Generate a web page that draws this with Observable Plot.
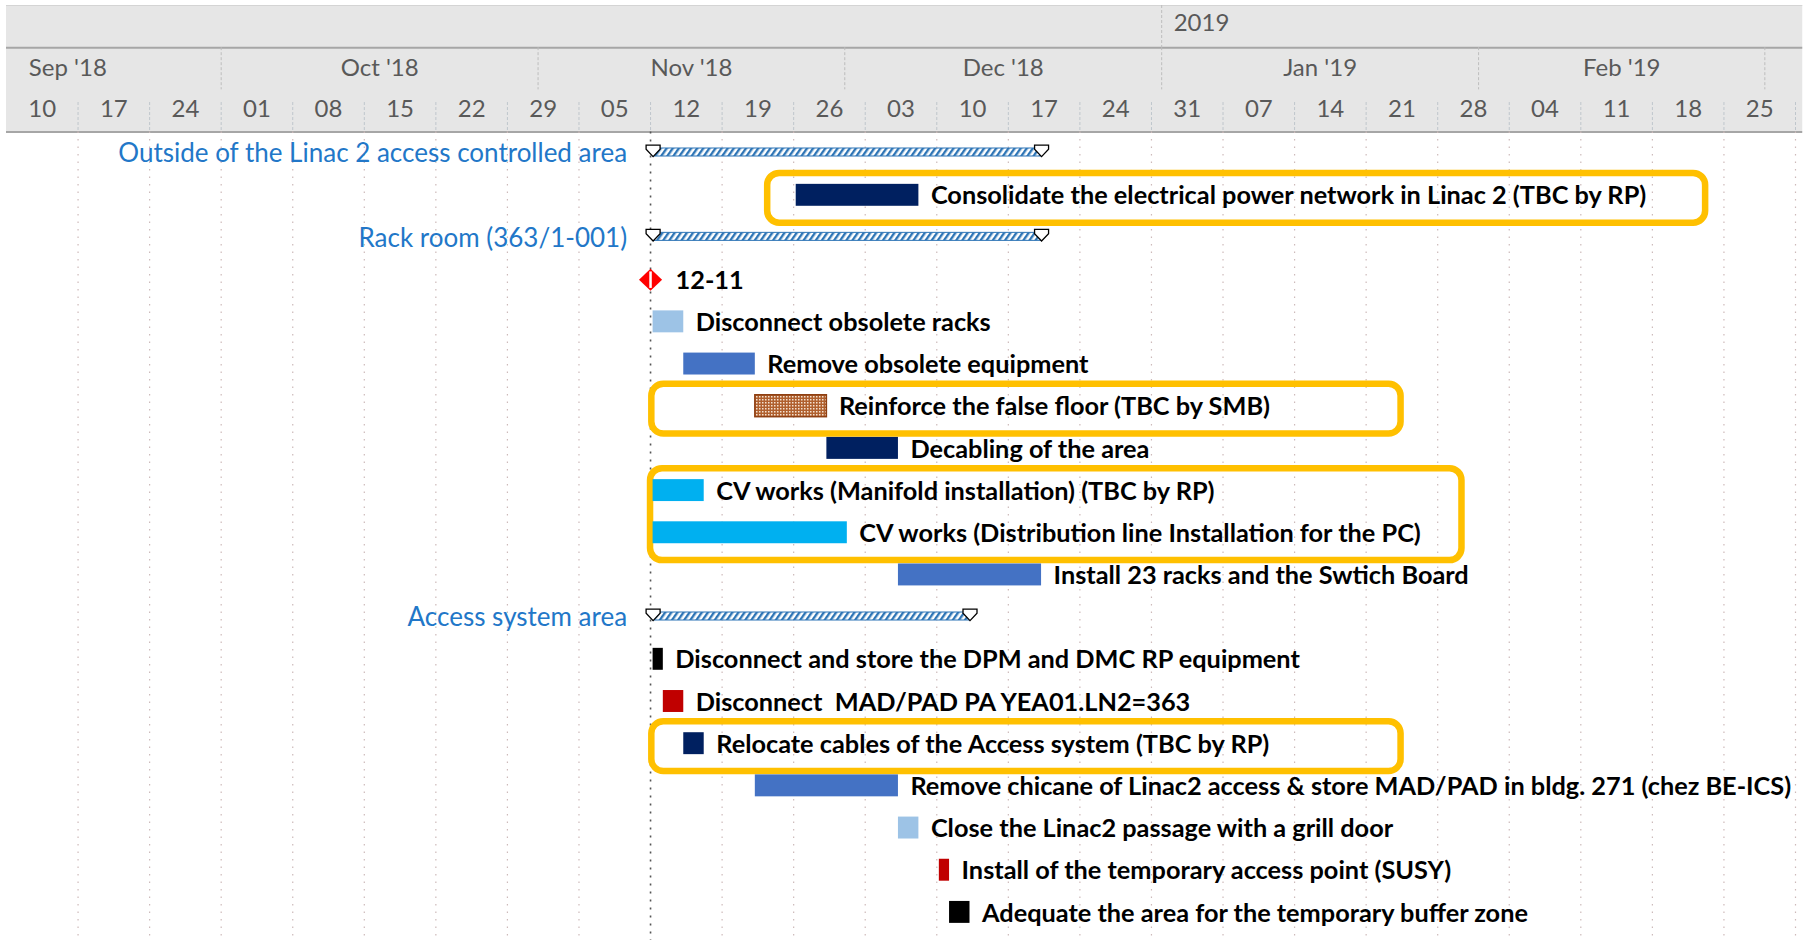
<!DOCTYPE html>
<html>
<head>
<meta charset="utf-8">
<script src="https://cdn.jsdelivr.net/npm/d3@7"></script>
<script src="https://cdn.jsdelivr.net/npm/@observablehq/plot@0.6"></script>
<style>
  html, body { margin: 0; padding: 0; background: #ffffff; }
  #chart svg { display: block; }
</style>
</head>
<body>
<svg width="0" height="0" style="position:absolute">
  <defs>
    <pattern id="summaryHatch" patternUnits="userSpaceOnUse" width="5" height="5" patternTransform="rotate(35)">
      <rect width="5" height="5" fill="#ffffff"></rect>
      <rect width="2.4" height="5" fill="#2e75b6"></rect>
    </pattern>
    <pattern id="floorHatch" patternUnits="userSpaceOnUse" width="3" height="3">
      <rect width="3" height="3" fill="#b0602e"></rect>
      <rect width="1.5" height="1.5" fill="#f4e2d2"></rect>
    </pattern>
  </defs>
</svg>
<div id="chart"></div>
<script>
// ---------------- Timescale (tick labels) ----------------
const timelineStart = "2018-09-10";
const timelineEnd = "2019-03-04";
const headerEnd = "2019-03-04T17:00";
const weekStarts = ["2018-09-10","2018-09-17","2018-09-24","2018-10-01","2018-10-08","2018-10-15","2018-10-22","2018-10-29",
  "2018-11-05","2018-11-12","2018-11-19","2018-11-26","2018-12-03","2018-12-10","2018-12-17","2018-12-24","2018-12-31",
  "2019-01-07","2019-01-14","2019-01-21","2019-01-28","2019-02-04","2019-02-11","2019-02-18","2019-02-25"];
const weekLabels = ["10","17","24","01","08","15","22","29","05","12","19","26","03","10","17","24","31",
  "07","14","21","28","04","11","18","25"];
const monthStarts = ["2018-09-01","2018-10-01","2018-11-01","2018-12-01","2019-01-01","2019-02-01","2019-03-01"];
const monthLabels = ["Sep '18","Oct '18","Nov '18","Dec '18","Jan '19","Feb '19"];
const yearStarts = ["2019-01-01"];
const yearLabels = ["2019"];
const statusDate = "2018-11-12";

// ---------------- Tasks ----------------
const taskNames = [
  "Outside of the Linac 2 access controlled area",
  "Consolidate the electrical power network in Linac 2 (TBC by RP)",
  "Rack room (363/1-001)",
  "Lock-out of Power Converters",
  "Disconnect obsolete racks",
  "Remove obsolete equipment",
  "Reinforce the false floor (TBC by SMB)",
  "Decabling of the area",
  "CV works (Manifold installation) (TBC by RP)",
  "CV works (Distribution line Installation for the PC)",
  "Install 23 racks and the Swtich Board",
  "Access system area",
  "Disconnect and store the DPM and DMC RP equipment",
  "Disconnect  MAD/PAD PA YEA01.LN2=363",
  "Relocate cables of the Access system (TBC by RP)",
  "Remove chicane of Linac2 access & store MAD/PAD in bldg. 271 (chez BE-ICS)",
  "Close the Linac2 passage with a grill door",
  "Install of the temporary access point (SUSY)",
  "Adequate the area for the temporary buffer zone"
];
const taskTypes = ["summary","task","summary","milestone","task","task","task","task","task","task","task",
  "summary","task","task","task","task","task","task","task"];
const taskStarts = ["2018-11-12","2018-11-26","2018-11-12","2018-11-12","2018-11-12","2018-11-15","2018-11-22","2018-11-29",
  "2018-11-12","2018-11-12","2018-12-06","2018-11-12","2018-11-12","2018-11-13","2018-11-15","2018-11-22","2018-12-06",
  "2018-12-10","2018-12-11"];
const taskFinishes = ["2018-12-20","2018-12-08","2018-12-20","2018-11-12","2018-11-15","2018-11-22","2018-11-29","2018-12-06",
  "2018-11-17","2018-12-01","2018-12-20","2018-12-13","2018-11-13","2018-11-15","2018-11-17","2018-12-06","2018-12-08",
  "2018-12-11","2018-12-13"];
const taskGroups = ["summary","electrical","summary","milestone","preparation","installation","civil","electrical",
  "cooling","cooling","installation","summary","radioprotection","access","electrical","installation","preparation",
  "access","radioprotection"];

// ---------------- Highlighted groups (orange frames) ----------------
const boxFirstRow = [1, 6, 8, 14];
const boxLastRow = [1, 6, 9, 14];
const boxStarts = ["2018-11-23T11:00","2018-11-12T03:00","2018-11-12T00:00","2018-11-12T03:00"];
const boxEnds = ["2019-02-23T05:00","2019-01-24T10:00","2019-01-30T09:00","2019-01-24T10:00"];

// ---------------- Build tables ----------------
const toDate = s => new Date(s.length > 10 ? s + ":00Z" : s + "T00:00:00Z");
const workStart = d => d3.utcHour.offset(d, 6); // bars begin at the start of the working day
const tasks = taskNames.map((name, i) => ({
  row: i, name, type: taskTypes[i], group: taskGroups[i],
  date: toDate(taskStarts[i]),
  start: workStart(toDate(taskStarts[i])),
  end: workStart(toDate(taskFinishes[i]))
}));
const bars = tasks.filter(d => d.type === "task");
const summaries = tasks.filter(d => d.type === "summary");
const milestones = tasks.filter(d => d.type === "milestone");
const summaryEnds = summaries.flatMap(d => [{row: d.row, x: d.start}, {row: d.row, x: d.end}]);
const boxes = boxFirstRow.map((r, i) => ({first: r, last: boxLastRow[i], start: toDate(boxStarts[i]), end: toDate(boxEnds[i])}));

const weeks = weekStarts.map((s, i) => ({start: toDate(s), mid: d3.utcHour.offset(toDate(s), 84), label: weekLabels[i]}));
const months = monthLabels.map((l, i) => {
  const a = toDate(monthStarts[i]), b = toDate(monthStarts[i + 1]);
  return {label: l, mid: new Date((+a + +b) / 2)};
});
const years = yearLabels.map((l, i) => ({label: l, start: toDate(yearStarts[i])}));
const gridLines = weekStarts.slice(1).concat([timelineEnd]).filter(s => s !== statusDate).map(toDate);
const headerSpan = [{x1: toDate(timelineStart), x2: toDate(headerEnd)}];

// header rows on the same row grid as the tasks
const headerRow = {year: -3, month: -2, week: -1};

// ---------------- Styles ----------------
const groupDomain = ["electrical","preparation","installation","cooling","radioprotection","access","civil"];
const groupColors = ["#002060","#9dc3e6","#4472c4","#00b0f0","#000000","#c00000","url(#floorHatch)"];
const font = "Lato, 'Open Sans', sans-serif";

const summaryCap = {draw(ctx, size) {
  const r = Math.sqrt(size / Math.PI);
  ctx.moveTo(-r, -1.15 * r); ctx.lineTo(r, -1.15 * r); ctx.lineTo(r, -0.55 * r);
  ctx.lineTo(0, 0.5 * r); ctx.lineTo(-r, -0.55 * r); ctx.closePath();
}};
const diamond = {draw(ctx, size) {
  const r = Math.sqrt(size / Math.PI);
  ctx.moveTo(0, -r); ctx.lineTo(1.05 * r, 0); ctx.lineTo(0, r); ctx.lineTo(-1.05 * r, 0); ctx.closePath();
}};
const vline = {draw(ctx, size) {
  const r = Math.sqrt(size / Math.PI);
  ctx.moveTo(0, -0.75 * r); ctx.lineTo(0, 0.75 * r);
}};
const fmtDM = d3.utcFormat("%d-%m");

const chart = Plot.plot({
  width: 1808,
  height: 940,
  marginTop: 5,
  marginBottom: 7,
  marginLeft: 6,
  marginRight: 13,
  style: {fontFamily: font, background: "transparent", overflow: "visible"},
  x: {type: "utc", domain: [toDate(timelineStart), toDate(timelineEnd)], axis: null},
  y: {type: "linear", domain: [-3.5, 18.5], reverse: true, axis: null},
  color: {type: "ordinal", domain: groupDomain, range: groupColors},
  marks: [
    // header
    Plot.rect(headerSpan, {x1: "x1", x2: "x2", y1: headerRow.year - 0.5, y2: headerRow.week + 0.5, fill: "#e6e6e6"}),
    Plot.ruleY([headerRow.year - 0.5], {x1: headerSpan[0].x1, x2: headerSpan[0].x2, stroke: "#d4d4d4", strokeWidth: 1}),
    Plot.ruleY([headerRow.month - 0.5, headerRow.week + 0.5], {x1: headerSpan[0].x1, x2: headerSpan[0].x2, stroke: "#a6a6a6", strokeWidth: 2}),
    Plot.ruleX(years, {x: "start", y1: headerRow.year - 0.5, y2: headerRow.year + 0.5, stroke: "#bdbdbd", strokeDasharray: "3,2"}),
    Plot.ruleX(monthStarts.slice(1).map(toDate), {y1: headerRow.month - 0.5, y2: headerRow.month + 0.5, stroke: "#bdbdbd", strokeDasharray: "3,2"}),
    Plot.ruleX(weeks.slice(1).map(d => d.start).concat([toDate(timelineEnd)]), {y1: headerRow.week - 0.2, y2: headerRow.week + 0.5, stroke: "#bfc6cc", strokeDasharray: "3,2"}),
    Plot.text(years, {x: "start", y: () => headerRow.year, text: "label", textAnchor: "start", dx: 12, dy: -3, fill: "#595959", fontSize: 24}),
    Plot.text(months, {x: "mid", y: () => headerRow.month, text: "label", fill: "#595959", fontSize: 24}),
    Plot.text(weeks, {x: "mid", y: () => headerRow.week, text: "label", dy: -2, fill: "#595959", fontSize: 24}),
    // grid
    Plot.ruleX(gridLines, {y1: headerRow.week + 0.5, y2: 18.7, stroke: "#cdbaba", strokeWidth: 1.2, strokeDasharray: "1.5,6"}),
    Plot.ruleX([toDate(statusDate)], {y1: headerRow.week + 0.5, y2: 18.7, stroke: "#555555", strokeWidth: 1.6, strokeDasharray: "2,6"}),
    // highlight frames
    Plot.rect(boxes, {x1: "start", x2: "end", y1: d => d.first - 0.52, y2: d => d.last + 0.66, fill: "none", stroke: "#ffc000", strokeWidth: 6.5, rx: 12}),
    // summary bars
    Plot.rect(summaries, {x1: "start", x2: "end", y1: d => d.row - 0.11, y2: d => d.row + 0.08, fill: "url(#summaryHatch)", stroke: "#2e75b6", strokeWidth: 1}),
    Plot.dot(summaryEnds, {x: "x", y: "row", r: 7, symbol: summaryCap, fill: "#ffffff", stroke: "#000000", strokeWidth: 1.3}),
    // task bars
    Plot.rect(bars, {x1: "start", x2: "end", y1: d => d.row - 0.26, y2: d => d.row + 0.26, fill: "group"}),
    Plot.rect(bars.filter(d => d.group === "civil"), {x1: "start", x2: "end", y1: d => d.row - 0.26, y2: d => d.row + 0.26, fill: "none", stroke: "#8e3f12", strokeWidth: 1.5}),
    // milestones
    Plot.dot(milestones, {x: "date", y: "row", r: 11, symbol: diamond, fill: "#ff0000", stroke: "none"}),
    Plot.dot(milestones, {x: "date", y: "row", r: 11, symbol: vline, fill: "none", stroke: "#ffffff", strokeWidth: 2.5}),
    // labels
    Plot.text(summaries, {x: "start", y: "row", text: "name", textAnchor: "end", dx: -26, dy: 1, fill: "#2277c8", fontSize: 26}),
    Plot.text(bars, {x: "end", y: "row", text: "name", textAnchor: "start", dx: 12, dy: 1, fill: "#000000", fontSize: 25.3, fontWeight: "bold"}),
    Plot.text(milestones, {x: "date", y: "row", text: d => fmtDM(d.date), textAnchor: "start", dx: 25, dy: 1, fill: "#000000", fontSize: 25.3, fontWeight: "bold"})
  ]
});
document.getElementById("chart").appendChild(chart);
</script>
</body>
</html>
